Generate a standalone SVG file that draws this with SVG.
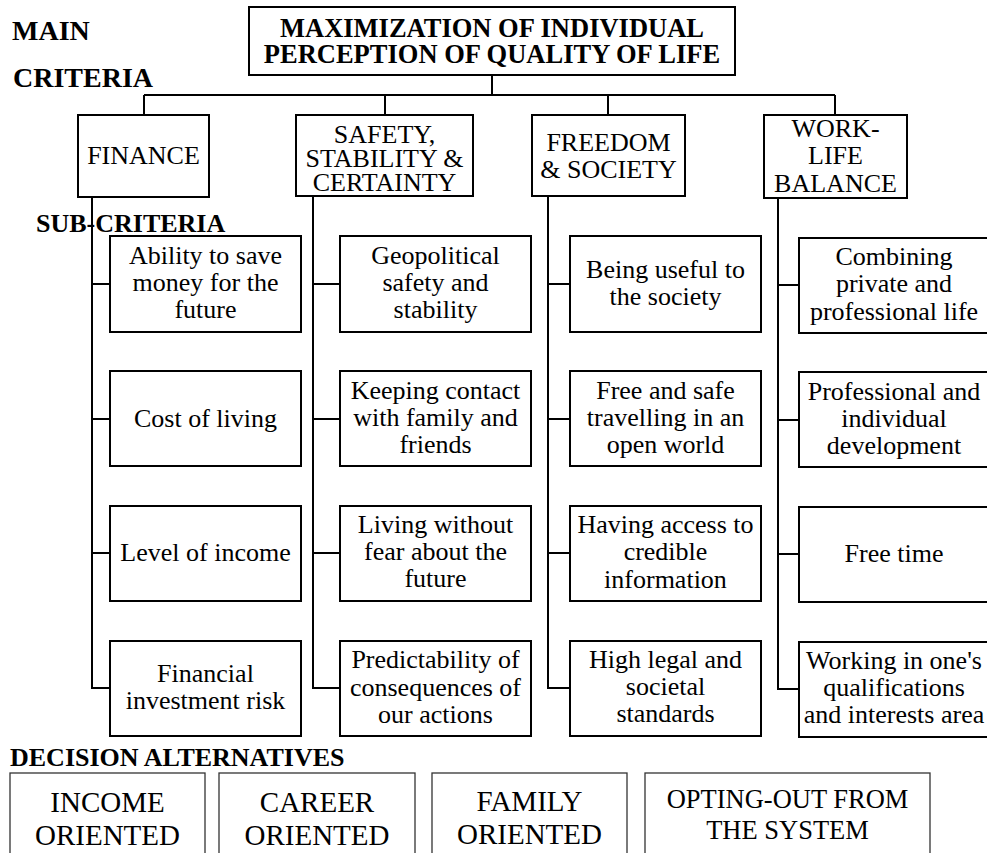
<svg xmlns="http://www.w3.org/2000/svg" width="987" height="853" viewBox="0 0 987 853" font-family="Liberation Serif, Times New Roman, serif">
<style>
text{fill:#000;}
.lbl{font-weight:bold;font-size:28px;}
.lbl2{font-weight:bold;font-size:26px;}
.top{font-weight:bold;font-size:26.5px;text-anchor:middle;}
.mc{font-size:26px;text-anchor:middle;}
.sc{font-size:26px;text-anchor:middle;}
.alt{font-size:29px;text-anchor:middle;}
.alt2{font-size:26.5px;text-anchor:middle;}
.box{fill:#fff;stroke:#000;stroke-width:2;}
.abox{fill:#fff;stroke:#333;stroke-width:1.3;}
.con{fill:none;stroke:#000;stroke-width:2;}
</style>
<rect width="987" height="853" fill="#fff"/>
<g id="labels" font-family="Liberation Serif, serif">
<text class="lbl" x="12" y="40">MAIN</text>
<text class="lbl" x="13" y="87">CRITERIA</text>
<text class="lbl2" x="36" y="232">SUB-CRITERIA</text>
<text class="lbl2" x="10" y="766">DECISION ALTERNATIVES</text>
</g>
<g id="connectors">
<path class="con" d="M492 75V95M144 95H835M144 95V115M385 95V115M608 95V115M835 95V115"/>
<path class="con" d="M92 197V688H110M92 284H110M92 419H110M92 553H110"/>
<path class="con" d="M313 196V688H340M313 284H340M313 419H340M313 553H340"/>
<path class="con" d="M548 196V688H570M548 284H570M548 419H570M548 553H570"/>
<path class="con" d="M778 198V689H799M778 285H799M778 420H799M778 554H799"/>
</g>
<g id="goal">
<rect class="box" x="249" y="7" width="486" height="68"/>
<text class="top" x="492" y="37">MAXIMIZATION OF INDIVIDUAL</text>
<text class="top" x="492" y="63">PERCEPTION OF QUALITY OF LIFE</text>
</g>
<g id="finance">
<rect class="box" x="78" y="115" width="131" height="82"/>
<text class="mc" x="143.5" y="164">FINANCE</text>
</g>
<g id="safety">
<rect class="box" x="296" y="115" width="177" height="81"/>
<text class="mc" x="384.5" y="143">SAFETY,</text>
<text class="mc" x="384.5" y="167">STABILITY &amp;</text>
<text class="mc" x="384.5" y="191">CERTAINTY</text>
</g>
<g id="freedom">
<rect class="box" x="532" y="115" width="153" height="81"/>
<text class="mc" x="608.5" y="151">FREEDOM</text>
<text class="mc" x="608.5" y="178">&amp; SOCIETY</text>
</g>
<g id="worklife">
<rect class="box" x="764" y="115" width="143" height="83"/>
<text class="mc" x="835.5" y="137">WORK-</text>
<text class="mc" x="835.5" y="164">LIFE</text>
<text class="mc" x="835.5" y="192">BALANCE</text>
</g>
<g id="f1"><rect class="box" x="110" y="236" width="191" height="96"/>
<text class="sc" x="205.5" y="264">Ability to save</text><text class="sc" x="205.5" y="291">money for the</text><text class="sc" x="205.5" y="318">future</text></g>
<g id="f2"><rect class="box" x="110" y="371" width="191" height="95"/>
<text class="sc" x="205.5" y="427">Cost of living</text></g>
<g id="f3"><rect class="box" x="110" y="506" width="191" height="95"/>
<text class="sc" x="205.5" y="561">Level of income</text></g>
<g id="f4"><rect class="box" x="110" y="641" width="191" height="95"/>
<text class="sc" x="205.5" y="682">Financial</text><text class="sc" x="205.5" y="709">investment risk</text></g>
<g id="s1"><rect class="box" x="340" y="236" width="191" height="96"/>
<text class="sc" x="435.5" y="264">Geopolitical</text><text class="sc" x="435.5" y="291">safety and</text><text class="sc" x="435.5" y="318">stability</text></g>
<g id="s2"><rect class="box" x="340" y="371" width="191" height="95"/>
<text class="sc" x="435.5" y="399">Keeping contact</text><text class="sc" x="435.5" y="426">with family and</text><text class="sc" x="435.5" y="453">friends</text></g>
<g id="s3"><rect class="box" x="340" y="506" width="191" height="95"/>
<text class="sc" x="435.5" y="533">Living without</text><text class="sc" x="435.5" y="560">fear about the</text><text class="sc" x="435.5" y="587">future</text></g>
<g id="s4"><rect class="box" x="340" y="641" width="191" height="95"/>
<text class="sc" x="435.5" y="668">Predictability of</text><text class="sc" x="435.5" y="696">consequences of</text><text class="sc" x="435.5" y="723">our actions</text></g>
<g id="r1"><rect class="box" x="570" y="236" width="191" height="96"/>
<text class="sc" x="665.5" y="278">Being useful to</text><text class="sc" x="665.5" y="305">the society</text></g>
<g id="r2"><rect class="box" x="570" y="371" width="191" height="95"/>
<text class="sc" x="665.5" y="399">Free and safe</text><text class="sc" x="665.5" y="426">travelling in an</text><text class="sc" x="665.5" y="453">open world</text></g>
<g id="r3"><rect class="box" x="570" y="506" width="191" height="95"/>
<text class="sc" x="665.5" y="533">Having access to</text><text class="sc" x="665.5" y="560">credible</text><text class="sc" x="665.5" y="588">information</text></g>
<g id="r4"><rect class="box" x="570" y="641" width="191" height="95"/>
<text class="sc" x="665.5" y="668">High legal and</text><text class="sc" x="665.5" y="695">societal</text><text class="sc" x="665.5" y="722">standards</text></g>
<g id="w1"><rect class="box" x="799" y="238" width="191" height="95"/>
<text class="sc" x="894" y="265">Combining</text><text class="sc" x="894" y="292">private and</text><text class="sc" x="894" y="320">professional life</text></g>
<g id="w2"><rect class="box" x="799" y="372" width="191" height="95"/>
<text class="sc" x="894" y="400">Professional and</text><text class="sc" x="894" y="427">individual</text><text class="sc" x="894" y="454">development</text></g>
<g id="w3"><rect class="box" x="799" y="507" width="191" height="95"/>
<text class="sc" x="894" y="562">Free time</text></g>
<g id="w4"><rect class="box" x="799" y="642" width="191" height="95"/>
<text class="sc" x="894" y="669">Working in one's</text><text class="sc" x="894" y="696">qualifications</text><text class="sc" x="894" y="723">and interests area</text></g>
<g id="a1"><rect class="abox" x="10" y="773" width="195" height="100"/>
<text class="alt" x="107.5" y="812">INCOME</text><text class="alt" x="107.5" y="845">ORIENTED</text></g>
<g id="a2"><rect class="abox" x="219" y="773" width="196" height="100"/>
<text class="alt" x="317" y="812">CAREER</text><text class="alt" x="317" y="845">ORIENTED</text></g>
<g id="a3"><rect class="abox" x="432" y="773" width="195" height="100"/>
<text class="alt" x="529.5" y="811">FAMILY</text><text class="alt" x="529.5" y="844">ORIENTED</text></g>
<g id="a4"><rect class="abox" x="645" y="773" width="285" height="100"/>
<text class="alt2" x="787.5" y="808">OPTING-OUT FROM</text><text class="alt2" x="787.5" y="839">THE SYSTEM</text></g>
</svg>
